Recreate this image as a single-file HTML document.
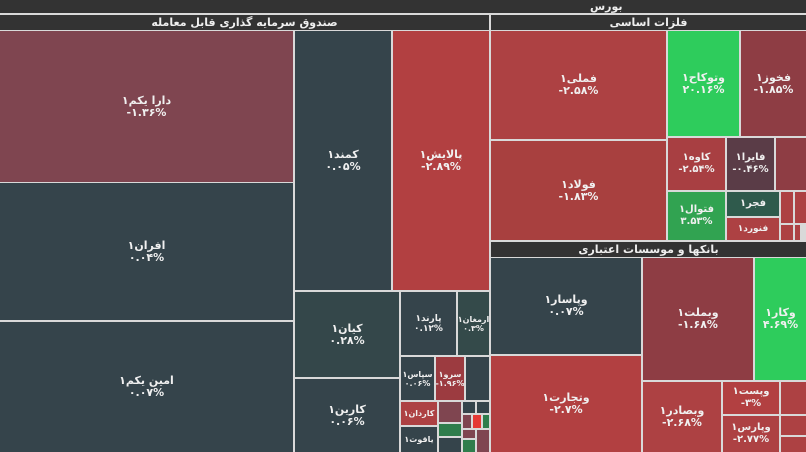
<!DOCTYPE html>
<html><head><meta charset="utf-8"><style>
body{margin:0;width:806px;height:452px;overflow:hidden;background:#d9d9d9;font-family:"DejaVu Sans","Liberation Sans",sans-serif;}
.c{position:absolute;display:flex;flex-direction:column;align-items:center;justify-content:center;color:#f0f0f0;font-weight:bold;font-size:11px;line-height:12px;text-align:center;overflow:hidden;white-space:nowrap}
.h{position:absolute;background:#333;color:#eee;font-size:11px;line-height:15px;text-align:center;font-weight:bold}
.s{background:#35444b}.r{background:#ad4143}.dr{background:#8e3d44}.m{background:#7f4550}.g{background:#2ecc5c}.g2{background:#31a351}
.sm{font-size:8px;line-height:9px}
</style></head><body>
<div class="h" style="left:0;top:0;width:806px;height:13px;line-height:13px"><span style="position:absolute;left:590px;top:0">بورس</span></div>
<div class="h" style="left:0;top:15px;width:489px;height:15px">صندوق سرمایه گذاری قابل معامله</div>
<div class="h" style="left:491px;top:15px;width:315px;height:15px">فلزات اساسی</div>

<div class="c m" style="left:0;top:31px;width:293px;height:151px">دارا یکم۱<br>-۱.۳۶%</div>
<div class="c s" style="left:0;top:183px;width:293px;height:137px">افران۱<br>۰.۰۴%</div>
<div class="c s" style="left:0;top:322px;width:293px;height:130px">امین یکم۱<br>۰.۰۷%</div>
<div class="c s" style="left:295px;top:31px;width:96px;height:259px">کمند۱<br>۰.۰۵%</div>
<div class="c r" style="left:393px;top:31px;width:96px;height:259px;background:#b24041">پالایش۱<br>-۲.۸۹%</div>
<div class="c s" style="left:295px;top:292px;width:104px;height:85px;background:#34474a">کیان۱<br>۰.۲۸%</div>
<div class="c s" style="left:295px;top:379px;width:104px;height:73px">کارین۱<br>۰.۰۶%</div>
<div class="c s" style="left:401px;top:292px;width:55px;height:63px;font-size:9px;line-height:10px">پارند۱<br>۰.۱۲%</div>
<div class="c s sm" style="left:458px;top:292px;width:31px;height:63px;background:#344a4a">ارمغان۱<br>۰.۳%</div>
<div class="c s sm" style="left:401px;top:357px;width:33px;height:43px">سپاس۱<br>۰.۰۶%</div>
<div class="c dr sm" style="left:436px;top:357px;width:28px;height:43px;background:#9c3b40">سرو۱<br>-۱.۹۶%</div>
<div class="c s" style="left:466px;top:357px;width:23px;height:43px"></div>
<div class="c r sm" style="left:401px;top:402px;width:36px;height:23px">کاردان۱</div>
<div class="c s sm" style="left:401px;top:427px;width:36px;height:25px">یاقوت۱</div>
<div class="c m" style="left:439px;top:402px;width:22px;height:20px"></div>
<div class="c g2" style="left:439px;top:424px;width:22px;height:12px;background:#2f7d4c"></div>
<div class="c s" style="left:439px;top:438px;width:22px;height:14px"></div>
<div class="c s" style="left:463px;top:402px;width:12px;height:11px"></div>
<div class="c s" style="left:477px;top:402px;width:12px;height:11px"></div>
<div class="c m" style="left:463px;top:415px;width:8px;height:13px"></div>
<div class="c" style="left:473px;top:415px;width:8px;height:13px;background:#e53935"></div>
<div class="c" style="left:483px;top:415px;width:6px;height:13px;background:#2f7d4c"></div>
<div class="c m" style="left:463px;top:430px;width:12px;height:8px"></div>
<div class="c s" style="left:463px;top:440px;width:12px;height:12px;background:#2f7d4c"></div>
<div class="c m" style="left:477px;top:430px;width:12px;height:22px"></div>

<div class="c r" style="left:491px;top:31px;width:175px;height:108px">فملی۱<br>-۲.۵۸%</div>
<div class="c r" style="left:491px;top:141px;width:175px;height:99px;background:#a8403f">فولاد۱<br>-۱.۸۳%</div>
<div class="c g" style="left:668px;top:31px;width:71px;height:105px">وتوکاح۱<br>۲۰.۱۶%</div>
<div class="c dr" style="left:741px;top:31px;width:65px;height:105px">فخوز۱<br>-۱.۸۵%</div>
<div class="c r" style="left:668px;top:138px;width:57px;height:52px;background:#a83f42;font-size:10px">کاوه۱<br>-۲.۵۴%</div>
<div class="c" style="left:727px;top:138px;width:47px;height:52px;background:#5a3c47;font-size:10px">فایرا۱<br>-۰.۴۶%</div>
<div class="c dr" style="left:776px;top:138px;width:30px;height:52px"></div>
<div class="c g2" style="left:668px;top:192px;width:57px;height:48px;font-size:10px">فتوال۱<br>۳.۵۳%</div>
<div class="c" style="left:727px;top:192px;width:52px;height:24px;background:#2f5a4c;font-size:10px">فجر۱</div>
<div class="c r" style="left:727px;top:218px;width:52px;height:22px;font-size:9px">فنورد۱</div>
<div class="c r" style="left:781px;top:192px;width:12px;height:31px"></div>
<div class="c r" style="left:795px;top:192px;width:11px;height:31px"></div>
<div class="c r" style="left:781px;top:225px;width:12px;height:15px"></div>
<div class="c r" style="left:795px;top:225px;width:5px;height:15px"></div>

<div class="h" style="left:491px;top:242px;width:315px;height:15px">بانکها و موسسات اعتباری</div>
<div class="c s" style="left:491px;top:258px;width:150px;height:96px">وپاسار۱<br>۰.۰۷%</div>
<div class="c r" style="left:491px;top:356px;width:150px;height:96px;background:#b24041">وتجارت۱<br>-۲.۷%</div>
<div class="c dr" style="left:643px;top:258px;width:110px;height:122px">وبملت۱<br>-۱.۶۸%</div>
<div class="c g" style="left:755px;top:258px;width:51px;height:122px">وکار۱<br>۴.۶۹%</div>
<div class="c r" style="left:643px;top:382px;width:78px;height:70px">وبصادر۱<br>-۲.۶۸%</div>
<div class="c r" style="left:723px;top:382px;width:56px;height:32px;background:#b24041;font-size:10px">وپست۱<br>-۳%</div>
<div class="c r" style="left:723px;top:416px;width:56px;height:36px;font-size:10px">وپارس۱<br>-۲.۷۷%</div>
<div class="c r" style="left:781px;top:382px;width:25px;height:32px"></div>
<div class="c r" style="left:781px;top:416px;width:25px;height:19px"></div>
<div class="c r" style="left:781px;top:437px;width:25px;height:15px"></div>
</body></html>
